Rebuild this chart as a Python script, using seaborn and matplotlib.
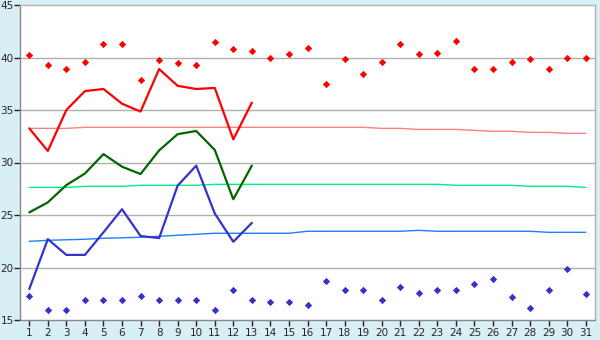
import matplotlib
matplotlib.use("Agg")
import matplotlib.pyplot as plt
import numpy as np
import pandas as pd
import seaborn as sns

days = list(range(1, 32))

# daily maximum points (red) and minimum points (blue)
max_points = [40.2, 39.25, 38.9, 39.55, 41.3, 41.3, 37.85, 39.8, 39.45, 39.25,
              41.5, 40.8, 40.6, 40.0, 40.3, 40.9, 37.45, 39.9, 38.4, 39.55,
              41.25, 40.3, 40.4, 41.6, 38.9, 38.95, 39.6, 39.9, 38.9, 40.0, 40.0]
min_points = [17.25, 16.0, 16.0, 16.95, 16.95, 16.95, 17.25, 16.95, 16.95, 16.9,
              16.0, 17.85, 16.95, 16.7, 16.7, 16.4, 18.7, 17.85, 17.85, 16.95,
              18.1, 17.55, 17.9, 17.85, 18.4, 18.9, 17.15, 16.1, 17.85, 19.9, 17.45]

# current month lines (days 1-13)
cur_days = list(range(1, 14))
cur_max = [33.25, 31.1, 35.0, 36.8, 37.0, 35.6, 34.85, 38.9, 37.3, 37.0, 37.1, 32.2, 35.7]
cur_avg = [25.25, 26.2, 27.85, 28.95, 30.8, 29.6, 28.9, 31.15, 32.7, 33.0, 31.2, 26.5, 29.7]
cur_min = [17.95, 22.7, 21.2, 21.2, 23.35, 25.55, 23.0, 22.8, 27.8, 29.7, 25.15, 22.45, 24.25]

# long-term normals
norm_max = [33.25, 33.25, 33.25, 33.35, 33.35, 33.35, 33.35, 33.35, 33.35, 33.35,
            33.35, 33.35, 33.35, 33.35, 33.35, 33.35, 33.35, 33.35, 33.35, 33.25,
            33.25, 33.15, 33.15, 33.15, 33.06, 32.97, 32.97, 32.87, 32.87, 32.78, 32.78]
norm_avg = [27.63, 27.63, 27.63, 27.73, 27.73, 27.73, 27.83, 27.83, 27.83, 27.83,
            27.92, 27.92, 27.92, 27.92, 27.92, 27.92, 27.92, 27.92, 27.92, 27.92,
            27.92, 27.92, 27.92, 27.83, 27.83, 27.83, 27.83, 27.73, 27.73, 27.73, 27.63]
norm_min = [22.49, 22.59, 22.64, 22.69, 22.78, 22.83, 22.88, 22.97, 23.07, 23.16,
            23.26, 23.26, 23.26, 23.26, 23.26, 23.45, 23.45, 23.45, 23.45, 23.45,
            23.45, 23.54, 23.45, 23.45, 23.45, 23.45, 23.45, 23.45, 23.35, 23.35, 23.35]

bg = "#d9eff6"
grid_col = "#b0b0b0"

sns.set_style("white")
plt.rcParams["font.family"] = ["DejaVu Sans"]

fig = plt.figure(figsize=(6, 3.4), dpi=100, facecolor=bg)
ax = fig.add_axes([20 / 600, 1 - 320 / 340, 575 / 600, 315 / 340])
ax.set_facecolor("white")

for yv in [20, 25, 30, 35, 40]:
    ax.axhline(yv, color=grid_col, lw=1.0, zorder=0)

sns.lineplot(x=days, y=norm_max, color="#ff8080", lw=1.0, ax=ax)
sns.lineplot(x=days, y=norm_avg, color="#00ee88", lw=1.0, ax=ax)
sns.lineplot(x=days, y=norm_min, color="#1a7fff", lw=1.0, ax=ax)

sns.lineplot(x=cur_days, y=cur_max, color="#ff0000", lw=1.6, ax=ax)
sns.lineplot(x=cur_days, y=cur_avg, color="#006600", lw=1.6, ax=ax)
sns.lineplot(x=cur_days, y=cur_min, color="#3333cc", lw=1.6, ax=ax)

sns.scatterplot(x=days, y=max_points, color="#ff0000", marker="D", s=14,
                linewidth=0, ax=ax)
sns.scatterplot(x=days, y=min_points, color="#3333cc", marker="D", s=14,
                linewidth=0, ax=ax)

ax.set_xlim(0.5, 31.5)
ax.set_ylim(15, 45)
ax.set_xticks(days)
ax.set_yticks([15, 20, 25, 30, 35, 40, 45])
ax.tick_params(axis="both", labelsize=7.5, length=4, width=1, color="#222222",
               direction="out", bottom=True, left=True)
ax.tick_params(axis="y", pad=0.5)
ax.tick_params(axis="x", pad=2)
for sp in ax.spines.values():
    sp.set_color(grid_col)
    sp.set_linewidth(1.0)
ax.spines["left"].set_color("#888888")
ax.spines["bottom"].set_color("#888888")
ax.set_xlabel("")
ax.set_ylabel("")

fig.savefig("out.png", dpi=100, facecolor=bg)
